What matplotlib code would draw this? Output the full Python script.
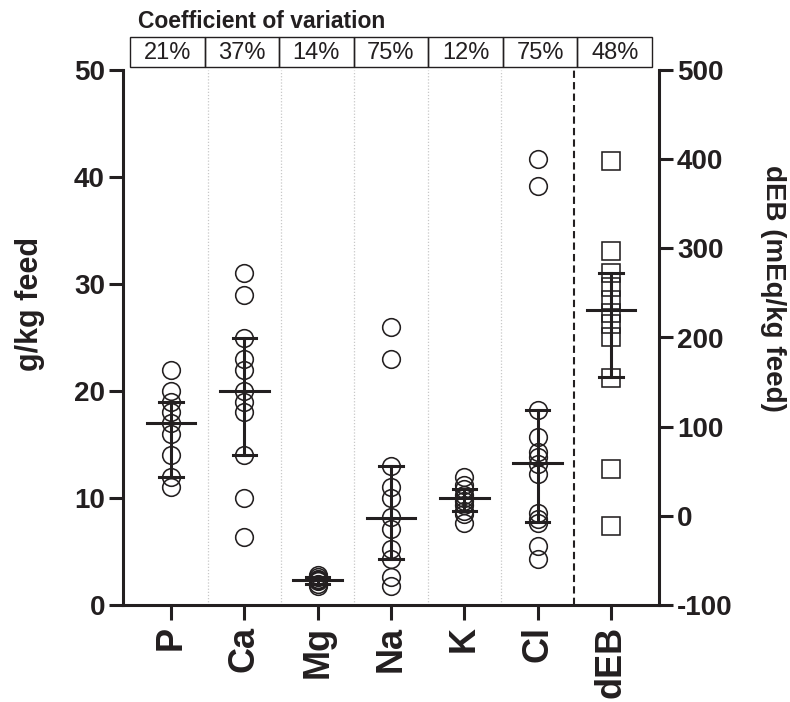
import matplotlib
matplotlib.use("Agg")
import matplotlib.pyplot as plt
from matplotlib.patches import Rectangle

plt.rcParams['font.family'] = ['Liberation Sans', 'DejaVu Sans']
plt.rcParams['axes.unicode_minus'] = False

categories = ["P", "Ca", "Mg", "Na", "K", "Cl", "dEB"]
cv_labels = ["21%", "37%", "14%", "75%", "12%", "75%", "48%"]

P = [22, 20, 19, 18, 17, 16, 14, 12, 11]
Ca = [31, 29, 25, 23, 22, 20, 19, 18, 14, 10, 6.4]
Mg = [2.8, 2.6, 2.4, 2.3, 2.2, 2.0, 1.8]
Na = [26, 23, 13, 11, 10, 8.2, 7.1, 5.2, 4.3, 2.6, 1.8]
K = [12, 11.2, 10.8, 10.3, 10, 9.7, 9.3, 8.8, 8.5, 7.7]
Cl = [41.7, 39.2, 18.2, 15.7, 14.3, 13.8, 13.2, 12.2, 8.6, 8.0, 7.7, 5.5, 4.3]
dEB = [398, 297, 272, 257, 242, 227, 215, 200, 155, 52, -11]

minerals = [P, Ca, Mg, Na, K, Cl]
median_g = [17, 20, 2.3, 8.1, 10, 13.3]
lower_g = [12, 14, 2.0, 4.3, 8.8, 7.8]
upper_g = [19, 25, 2.6, 13, 10.8, 18.2]
median_deb = 231
lower_deb = 156
upper_deb = 272

INK = "#231f20"
W, H = 790, 702
fig = plt.figure(figsize=(W / 100, H / 100), dpi=100)

x0, x1, ytop, ybot = 123, 659, 70, 605
ax = fig.add_axes([x0 / W, (H - ybot) / H, (x1 - x0) / W, (ybot - ytop) / H])
ax.set_xlim(-0.655, 6.655)
ax.set_ylim(0, 50)
ax2 = ax.twinx()
ax2.set_ylim(-100, 500)
ax2.set_xlim(-0.655, 6.655)

for a in (ax, ax2):
    a.patch.set_visible(False)
    a.spines['top'].set_visible(False)
    for s in ('left', 'right', 'bottom'):
        a.spines[s].set_linewidth(2.2)
        a.spines[s].set_color(INK)

ax.spines['right'].set_visible(False)
ax2.spines['left'].set_visible(False)
ax2.spines['bottom'].set_visible(False)

# separators
for i in range(5):
    ax.axvline(i + 0.5, color="#c8c8c8", lw=0.9, ls=(0, (1, 1.5)), zorder=0)
ax.axvline(5.5, color=INK, lw=1.5, ls=(0, (3.5, 2)), zorder=1)

ms = 12.7
half_med = 0.33
half_cap = 0.16
lw_bar = 2.2
for i, vals in enumerate(minerals):
    ax.plot([i] * len(vals), vals, ls='none', marker='o', ms=ms, mfc='none',
            mec=INK, mew=1.15, zorder=2)
    ax.plot([i - half_med, i + half_med], [median_g[i]] * 2, color=INK, lw=lw_bar, zorder=3)
    ax.plot([i, i], [lower_g[i], upper_g[i]], color=INK, lw=lw_bar, zorder=3)
    for v in (lower_g[i], upper_g[i]):
        ax.plot([i - half_cap, i + half_cap], [v, v], color=INK, lw=lw_bar, zorder=3)

j = 6
ax2.plot([j] * len(dEB), dEB, ls='none', marker='s', ms=ms, mfc='none',
         mec=INK, mew=1.15, zorder=2)
ax2.plot([j - half_med, j + half_med], [median_deb] * 2, color=INK, lw=lw_bar, zorder=3)
ax2.plot([j, j], [lower_deb, upper_deb], color=INK, lw=lw_bar, zorder=3)
for v in (lower_deb, upper_deb):
    ax2.plot([j - half_cap, j + half_cap], [v, v], color=INK, lw=lw_bar, zorder=3)

ax.set_yticks(range(0, 51, 10))
ax2.set_yticks(range(-100, 501, 100))
ax.set_xticks(range(len(categories)))
ax.set_xticklabels(categories, rotation=90, fontsize=26, fontweight='bold', color=INK)
ax.tick_params(axis='x', length=11, width=2.2, color=INK, pad=4)
ax.tick_params(axis='y', length=10, width=2.2, color=INK, pad=3,
               labelsize=20, labelcolor=INK)
ax2.tick_params(axis='y', length=10, width=2.2, color=INK, pad=3,
                labelsize=20, labelcolor=INK)
for lab in ax.get_yticklabels() + ax2.get_yticklabels():
    lab.set_fontweight('bold')

fig.text(30 / W, 1 - 304 / H, "g/kg feed", rotation=90, ha='center', va='center',
         fontsize=22, fontweight='bold', color=INK)
fig.text(773 / W, 1 - 288 / H, "dEB (mEq/kg feed)", rotation=270, ha='center', va='center',
         fontsize=20, fontweight='bold', color=INK)

# Coefficient of variation table
tx0, tx1, tt, tb = 130, 652, 37, 67
tax = fig.add_axes([tx0 / W, (H - tb) / H, (tx1 - tx0) / W, (tb - tt) / H])
tax.set_xlim(0, len(cv_labels))
tax.set_ylim(0, 1)
tax.axis('off')
for i, lab in enumerate(cv_labels):
    tax.add_patch(Rectangle((i, 0), 1, 1, fill=False, ec=INK, lw=1.0, clip_on=False))
    tax.text(i + 0.5, 0.47, lab, ha='center', va='center', fontsize=17, color=INK)
fig.text(138 / W, 1 - 22 / H, "Coefficient of variation", ha='left', va='center',
         fontsize=16.5, fontweight='bold', color=INK)

fig.savefig("out.png", dpi=100)
